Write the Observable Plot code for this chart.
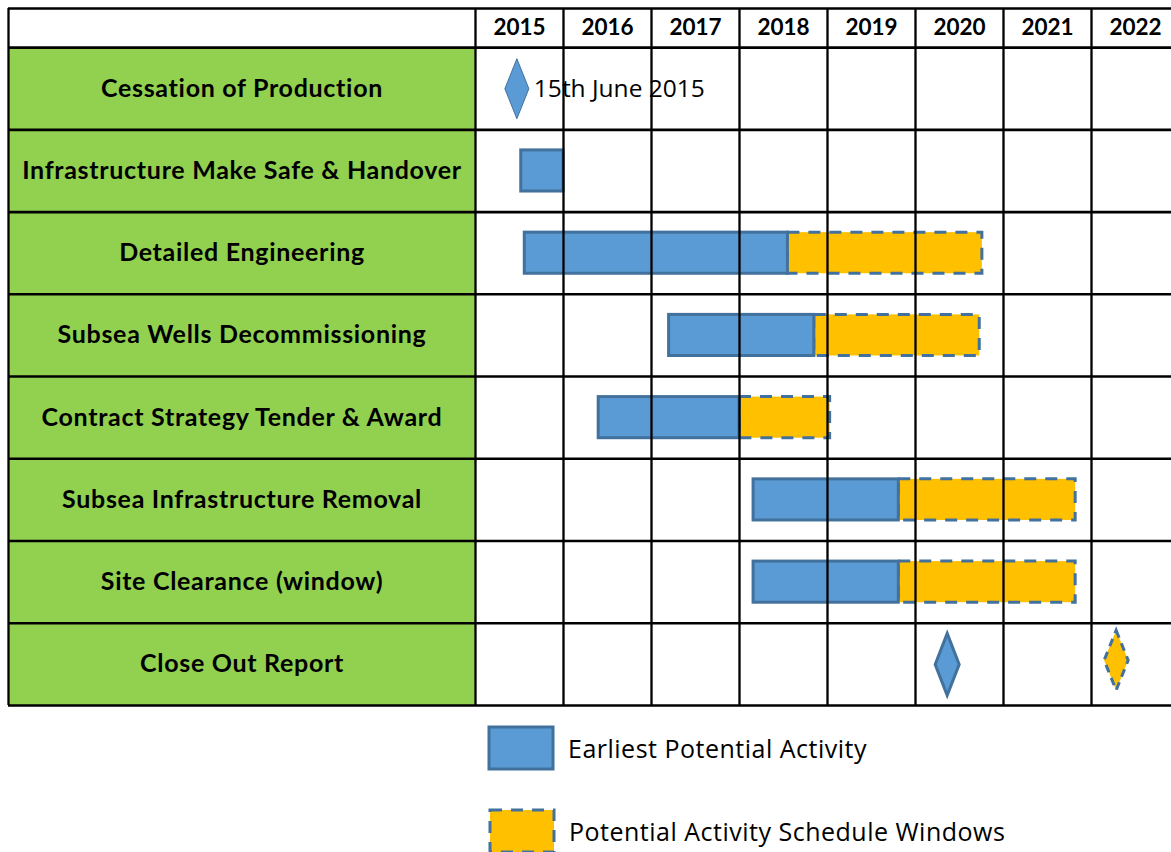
<!DOCTYPE html>
<html>
<head>
<meta charset="utf-8">
<script src="https://cdn.jsdelivr.net/npm/d3@7"></script>
<script src="https://cdn.jsdelivr.net/npm/@observablehq/plot@0.6"></script>
<style>
  html, body { margin: 0; padding: 0; background: #fff; overflow: hidden; }
  #chart svg { display: block; }
  #legend { position: relative; width: 1171px; height: 142px; font-family: "Open Sans", Lato, sans-serif; }
  .item { position: absolute; display: flex; align-items: center; font-size: 25px; letter-spacing: 0.5px; color: #000; }
  .item svg { display: block; margin-right: 13px; }
</style>
</head>
<body>
<div id="chart"></div>
<div id="legend">
  <div class="item" style="left:487px; top:15px;">
    <svg width="68" height="46"><rect x="2" y="2" width="64" height="42" fill="#5B9BD5" stroke="#41719C" stroke-width="3"/></svg>
    <span>Earliest Potential Activity</span>
  </div>
  <div class="item" style="left:488px; top:98px;">
    <svg width="68" height="46"><rect x="2" y="2" width="64" height="42" fill="#FFC000" stroke="#41719C" stroke-width="3" stroke-dasharray="12,9"/></svg>
    <span>Potential Activity Schedule Windows</span>
  </div>
</div>
<script>
// ---- data ----
const categories = [
  "Cessation of Production",
  "Infrastructure Make Safe & Handover",
  "Detailed Engineering",
  "Subsea Wells Decommissioning",
  "Contract Strategy Tender & Award",
  "Subsea Infrastructure Removal",
  "Site Clearance (window)",
  "Close Out Report"
];
const years = [2015, 2016, 2017, 2018, 2019, 2020, 2021, 2022];
const earliestStart = [null, 2015.52, 2015.56, 2017.20, 2016.40, 2018.16, 2018.16, null];
const earliestEnd   = [null, 2016.00, 2018.55, 2018.85, 2018.00, 2019.81, 2019.81, null];
const windowEnd     = [null, null,    2020.76, 2020.73, 2019.03, 2021.82, 2021.82, null];
const milestoneEarliest = [2015.47, null, null, null, null, null, null, 2020.36];
const milestoneWindow   = [null, null, null, null, null, null, null, 2022.28];
const annotations = [{row: 0, date: 2015.47, text: "15th June 2015"}];

// ---- layout ----
const HEADER = 39 / 82;                 // header row height in row units
const LABEL_X0 = 2015 - (475 - 8) / 88; // left edge of the label column in year units
const BLUE = "#5B9BD5", BLUE_EDGE = "#41719C", GOLD = "#FFC000", GREEN = "#92D050";

const rows = categories.map((cat, i) => ({
  cat, i,
  es: earliestStart[i], ee: earliestEnd[i], we: windowEnd[i],
  me: milestoneEarliest[i], mw: milestoneWindow[i]
}));
const barRows = rows.filter(d => d.es != null);
const winRows = rows.filter(d => d.we != null);
const msE = rows.filter(d => d.me != null);
const msW = rows.filter(d => d.mw != null);

function diamond(hw, hh) {
  return { draw(ctx) { ctx.moveTo(0, -hh); ctx.lineTo(hw, 0); ctx.lineTo(0, hh); ctx.lineTo(-hw, 0); ctx.closePath(); } };
}

const boldFont = "Lato, 'Open Sans', sans-serif";
const regFont = "'Open Sans', Lato, sans-serif";

const chart = Plot.plot({
  width: 1171,
  height: 710,
  marginLeft: 0, marginRight: 0, marginTop: 0, marginBottom: 0,
  x: { type: "linear", domain: [2015, 2023], range: [475, 1179], axis: null },
  y: { type: "linear", domain: [-HEADER, 8], range: [8, 705], axis: null },
  style: { fontFamily: boldFont, background: "white", overflow: "hidden" },
  marks: [
    // label column
    Plot.rect(rows, { x1: LABEL_X0, x2: 2015, y1: d => d.i, y2: d => d.i + 1, fill: GREEN }),
    // window bars
    Plot.rect(winRows, { x1: "ee", x2: "we", y1: d => d.i + 0.25, y2: d => d.i + 0.75,
      fill: GOLD, stroke: BLUE_EDGE, strokeWidth: 3, strokeDasharray: "12,9" }),
    // earliest bars
    Plot.rect(barRows, { x1: "es", x2: "ee", y1: d => d.i + 0.25, y2: d => d.i + 0.75,
      fill: BLUE, stroke: BLUE_EDGE, strokeWidth: 3 }),
    // grid
    Plot.ruleY([-HEADER, ...d3.range(0, 9)], { x1: LABEL_X0, x2: 2023, stroke: "#000", strokeWidth: 2.6 }),
    Plot.ruleX([LABEL_X0, ...years, 2023], { y1: -HEADER, y2: 8, stroke: "#000", strokeWidth: 2.3 }),
    // milestones
    Plot.dot(msE.filter(d => d.i === 0), { x: "me", y: d => d.i + 0.5, symbol: diamond(12, 30),
      fill: BLUE, stroke: BLUE_EDGE, strokeWidth: 1 }),
    Plot.dot(msE.filter(d => d.i !== 0), { x: "me", y: d => d.i + 0.5, symbol: diamond(12, 31),
      fill: BLUE, stroke: BLUE_EDGE, strokeWidth: 3 }),
    Plot.dot(msW, { x: "mw", y: d => d.i + 0.45, symbol: diamond(12, 30),
      fill: GOLD, stroke: BLUE_EDGE, strokeWidth: 3, strokeDasharray: "8,6" }),
    // annotation
    Plot.text(annotations, { x: "date", y: d => d.row + 0.5, text: "text", textAnchor: "start", dx: 17,
      fontSize: 24.5, fontFamily: regFont, fill: "#000" }),
    // header years
    Plot.text(years, { x: d => d + 0.5, y: -HEADER / 2, text: d => String(d), fontWeight: "bold",
      fontSize: 22.5, fill: "#000" }),
    // row labels
    Plot.text(rows, { x: (LABEL_X0 + 2015) / 2, y: d => d.i + 0.5, text: "cat", fontWeight: "bold",
      fontSize: 25, fill: "#000" })
  ]
});
// letter-spacing for the row labels (last text mark)
const labelGroups = chart.querySelectorAll("g[aria-label='text']");
labelGroups[labelGroups.length - 1].setAttribute("letter-spacing", "0.7");
document.getElementById("chart").appendChild(chart);
</script>
</body>
</html>
